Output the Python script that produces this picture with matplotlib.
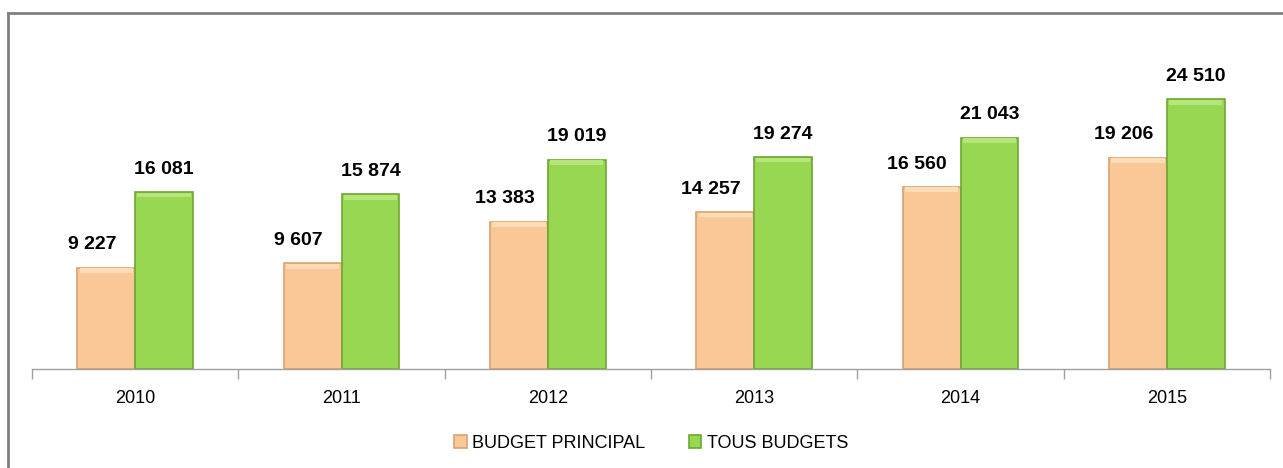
import numpy as np
import matplotlib
matplotlib.use('Agg')
import matplotlib.pyplot as plt

years = ['2010', '2011', '2012', '2013', '2014', '2015']
budget_principal = [9227, 9607, 13383, 14257, 16560, 19206]
tous_budgets = [16081, 15874, 19019, 19274, 21043, 24510]


def fmt(v):
    # french style thousands separator
    return '{:,}'.format(v).replace(',', ' ')


def bevel_bars(ax, x, vals, width, body, light, dark, label):
    bars = ax.bar(x, vals, width=width, color=body, edgecolor=dark,
                  linewidth=1.2, label=label, zorder=2)
    # thin highlight strip at the top of each bar
    ax.bar(x, [420] * len(vals), bottom=np.array(vals) - 480, width=width * 0.92,
           color=light, linewidth=0, zorder=3)
    return bars


def main():
    plt.rcParams['font.family'] = ['Liberation Sans', 'DejaVu Sans']
    fig = plt.figure(figsize=(12.83, 4.68), dpi=100)

    # outer frame (top and left border lines)
    fig.add_artist(plt.Line2D([8 / 1283, 1], [1 - 13 / 468, 1 - 13 / 468],
                              color='#808080', lw=2, transform=fig.transFigure))
    fig.add_artist(plt.Line2D([8 / 1283, 8 / 1283], [0, 1 - 13 / 468],
                              color='#808080', lw=2, transform=fig.transFigure))

    ax = fig.add_axes([32 / 1283, 99 / 468, (1270 - 32) / 1283, 330 / 468])
    x = np.arange(len(years))
    w = 0.28

    bevel_bars(ax, x - w / 2, budget_principal, w, '#FAC796', '#FDDDB8', '#D9A273',
               'BUDGET PRINCIPAL')
    bevel_bars(ax, x + w / 2, tous_budgets, w, '#98D752', '#B6E67A', '#6FA534',
               'TOUS BUDGETS')

    for i in range(len(years)):
        ax.text(x[i] - w / 2 - 0.07, budget_principal[i] + 1300, fmt(budget_principal[i]),
                ha='center', va='bottom', fontsize=14, fontweight='bold')
        ax.text(x[i] + w / 2, tous_budgets[i] + 1300, fmt(tous_budgets[i]),
                ha='center', va='bottom', fontsize=14, fontweight='bold')

    ax.set_xlim(-0.5, len(years) - 0.5)
    ax.set_ylim(0, 30000)
    ax.set_yticks([])
    for s in ['top', 'right', 'left']:
        ax.spines[s].set_visible(False)
    ax.spines['bottom'].set_color('#A0A0A0')
    ax.spines['bottom'].set_linewidth(1)

    ax.set_xticks(x)
    ax.set_xticklabels(years, fontsize=13)
    ax.tick_params(axis='x', length=0, pad=15)
    ax.set_xticks(np.arange(-0.5, len(years)), minor=True)
    ax.tick_params(axis='x', which='minor', length=7, color='#A0A0A0', width=1)

    ax.legend(loc='center', bbox_to_anchor=(0.5, -0.225), ncol=2, frameon=False,
              fontsize=13, handlelength=0.7, handleheight=0.7, handletextpad=0.3,
              columnspacing=2.4)

    fig.savefig('out.png', dpi=100)


if __name__ == '__main__':
    main()
